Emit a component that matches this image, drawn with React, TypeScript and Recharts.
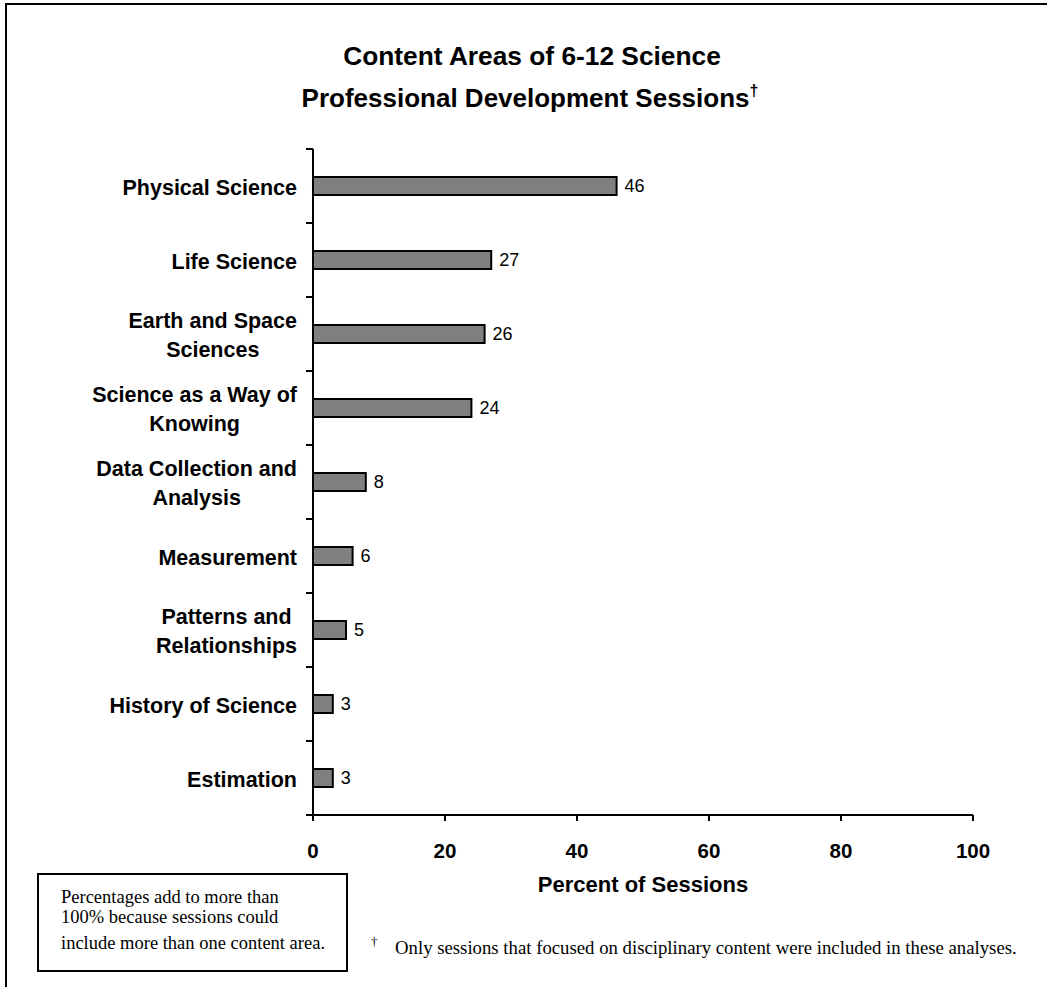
import { Bar, BarChart, LabelList, XAxis, YAxis } from "recharts";

// Content areas, top to bottom; "\n" marks where a label wraps
const CATEGORIES = [
  "Physical Science",
  "Life Science",
  "Earth and Space\nSciences",
  "Science as a Way of\nKnowing",
  "Data Collection and\nAnalysis",
  "Measurement",
  "Patterns and\nRelationships",
  "History of Science",
  "Estimation",
];
const PERCENTS = [46, 27, 26, 24, 8, 6, 5, 3, 3];
const X_TICKS = [0, 20, 40, 60, 80, 100];

const TITLE_LINE_1 = "Content Areas of 6-12 Science";
const TITLE_LINE_2 = "Professional Development Sessions";
const AXIS_TITLE = "Percent of Sessions";
const NOTE_LINES = [
  "Percentages add to more than",
  "100% because sessions could",
  "include more than one content area.",
];
const FOOTNOTE = "Only sessions that focused on disciplinary content were included in these analyses.";

const SANS = "'Liberation Sans', Arial, sans-serif";
const SERIF = "'Liberation Serif', 'Times New Roman', serif";

const W = 1047;
const H = 987;
const PLOT_TOP = 149;
const PLOT_LEFT = 313;
const PLOT_RIGHT = 973;
const PLOT_BOTTOM = 815;
const BAND = (PLOT_BOTTOM - PLOT_TOP) / CATEGORIES.length;

const CAT_FONT_SIZE = 21.5;
const CAT_LINE_H = 28.5;
const TICK_GAP = 16;

const data = CATEGORIES.map((name, i) => ({ name, value: PERCENTS[i] }));

let measureCtx: CanvasRenderingContext2D | null = null;
function textWidth(s: string, font: string): number {
  if (!measureCtx) measureCtx = document.createElement("canvas").getContext("2d");
  if (!measureCtx) return s.length * 11;
  measureCtx.font = font;
  return measureCtx.measureText(s).width;
}

// Category label: lines centred on each other, block right-aligned to the axis,
// plus the band-boundary tick marks on the y axis
function CategoryTick(props: any) {
  const { x, y, payload } = props;
  const index = props.index ?? payload?.index ?? 0;
  const lines = String(payload.value).split("\n");
  const axisX = x + TICK_GAP;
  const maxW = Math.max(...lines.map((l) => textWidth(l, `bold ${CAT_FONT_SIZE}px ${SANS}`)));
  const cx = x - maxW / 2;
  const half = BAND / 2;
  const last = index === CATEGORIES.length - 1;
  return (
    <g>
      <line x1={axisX - 7} x2={axisX} y1={y - half} y2={y - half} stroke="#000" strokeWidth={2} />
      {last && <line x1={axisX - 7} x2={axisX} y1={y + half} y2={y + half} stroke="#000" strokeWidth={2} />}
      <text textAnchor="middle" fontFamily={SANS} fontWeight="bold" fontSize={CAT_FONT_SIZE} fill="#000">
        {lines.map((l, i) => (
          <tspan key={i} x={cx} y={y + 8.5 + (i - (lines.length - 1) / 2) * CAT_LINE_H}>
            {l}
          </tspan>
        ))}
      </text>
    </g>
  );
}

function AxisTitle(props: any) {
  const vb = props.viewBox ?? { x: PLOT_LEFT, y: PLOT_BOTTOM, width: PLOT_RIGHT - PLOT_LEFT };
  return (
    <text x={vb.x + vb.width / 2} y={vb.y + 77} textAnchor="middle" fontFamily={SANS} fontWeight="bold" fontSize={22} fill="#000">
      {AXIS_TITLE}
    </text>
  );
}

export default function App() {
  return (
    <div style={{ position: "absolute", left: 0, top: 0, width: W, height: H, overflow: "hidden", background: "#fff" }}>
      <div
        style={{
          position: "absolute",
          left: 5,
          top: 3,
          width: W + 40,
          height: H + 40,
          borderTop: "2px solid #000",
          borderLeft: "2px solid #000",
        }}
      />
      <div style={{ position: "absolute", left: 0, top: 0 }}>
        <BarChart
          width={W}
          height={H}
          data={data}
          layout="vertical"
          margin={{ top: PLOT_TOP, right: W - PLOT_RIGHT, bottom: H - PLOT_BOTTOM - 100, left: 0 }}
        >
          <XAxis
            type="number"
            domain={[0, 100]}
            ticks={X_TICKS}
            height={100}
            axisLine={{ stroke: "#000", strokeWidth: 2 }}
            tickLine={{ stroke: "#000", strokeWidth: 2 }}
            tickSize={6}
            tickMargin={22}
            tick={{ fontSize: 20.5, fontWeight: "bold", fill: "#000", fontFamily: SANS }}
            label={{ content: (p: any) => <AxisTitle {...p} /> }}
          />
          <YAxis
            type="category"
            dataKey="name"
            width={PLOT_LEFT}
            axisLine={{ stroke: "#000", strokeWidth: 2 }}
            tickLine={false}
            tickSize={0}
            tickMargin={TICK_GAP}
            interval={0}
            tick={<CategoryTick />}
          />
          <Bar dataKey="value" fill="#808080" stroke="#000" strokeWidth={2} barSize={18} isAnimationActive={false}>
            <LabelList dataKey="value" position="right" offset={8} fill="#000" fontSize={18} fontFamily={SANS} />
          </Bar>
        </BarChart>
      </div>
      <svg width={W} height={H} style={{ position: "absolute", left: 0, top: 0, pointerEvents: "none" }}>
        <text x={532} y={65} textAnchor="middle" fontFamily={SANS} fontWeight="bold" fontSize={26.3} fill="#000">
          {TITLE_LINE_1}
        </text>
        <text x={530} y={106.5} textAnchor="middle" fontFamily={SANS} fontWeight="bold" fontSize={26} fill="#000">
          {TITLE_LINE_2}
          <tspan fontSize={16} dy={-11}>
            †
          </tspan>
        </text>
        <rect x={38} y={874} width={309} height={97} fill="none" stroke="#000" strokeWidth={2} />
        {NOTE_LINES.map((l, i) => (
          <text key={l} x={61} y={[903, 923, 949][i]} fontFamily={SERIF} fontSize={18.5} fill="#000">
            {l}
          </text>
        ))}
        <text x={371} y={946} fontFamily={SERIF} fontSize={13} fill="#000">
          †
        </text>
        <text x={395} y={954} fontFamily={SERIF} fontSize={18.75} fill="#000">
          {FOOTNOTE}
        </text>
      </svg>
    </div>
  );
}
